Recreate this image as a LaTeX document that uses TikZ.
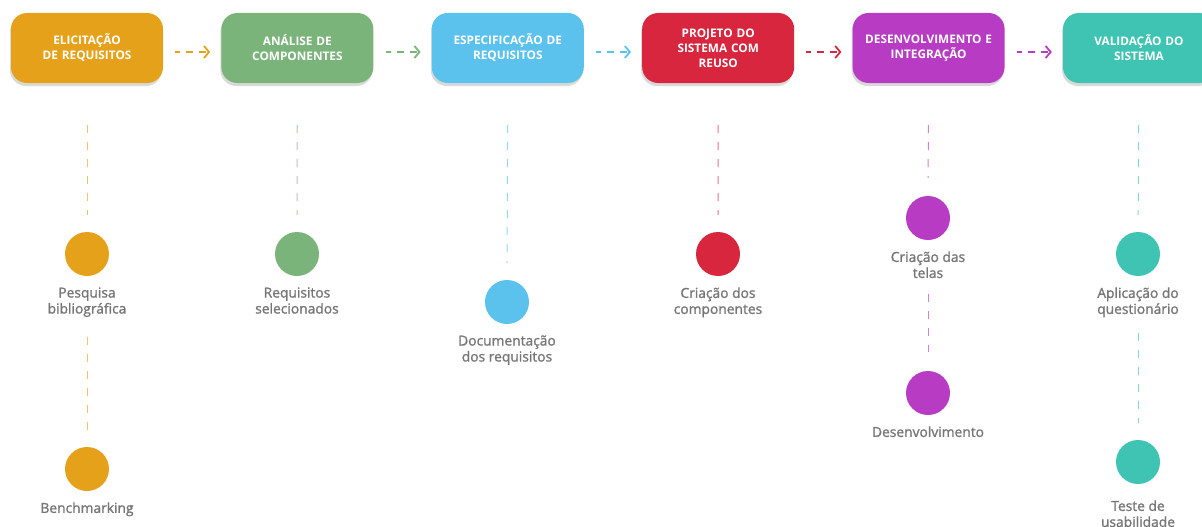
\documentclass[tikz,border=0pt]{standalone}
\usepackage{fontspec}
\setmainfont{Open Sans}
\newfontfamily\fonterotulo[FakeBold=1.4]{Open Sans}
\usepackage{xcolor}
\usetikzlibrary{arrows.meta, positioning, shadows}

\definecolor{corLaranja}{HTML}{E5A11A}
\definecolor{corVerde}{HTML}{7BB47B}
\definecolor{corAzul}{HTML}{5BC2EE}
\definecolor{corVermelho}{HTML}{D7263D}
\definecolor{corRoxo}{HTML}{B73BC3}
\definecolor{corTurquesa}{HTML}{3FC4B3}
\definecolor{cinza}{HTML}{767676}

\begin{document}
\begin{tikzpicture}[x=1pt, y=1pt,
      node distance=58pt,
      etapa/.style={fill=#1, rounded corners=16pt, minimum width=152pt, minimum height=70pt,
        text width=148pt, align=center, text=white, inner sep=0pt,
        font=\bfseries\fontsize{11.8}{15}\selectfont,
        drop shadow={shadow xshift=-1pt, shadow yshift=-3pt, opacity=0.3}},
      seta/.style={draw=#1, line width=1.8pt, dash pattern=on 7pt off 6pt, dash phase=2pt,
        shorten <=12pt, shorten >=11pt, -{Straight Barb[length=5pt, width=12pt, line width=1.8pt]}},
      ponto/.style={circle, fill=#1, minimum size=44pt, inner sep=0pt},
      texto/.style={text=cinza, align=center, inner sep=0pt, font=\fonterotulo\fontsize{13.8}{16}\selectfont},
      guia/.style={draw=#1!65, line width=1pt, dash pattern=on 8pt off 9pt}
    ]
    \useasboundingbox (0,0) rectangle (1202,-527);
    \clip (0,0) rectangle (1202,-527);
    % etapas
    \node[etapa=corLaranja] (elic) at (87,-48) {ELICITAÇÃO\\DE REQUISITOS};
    \node[etapa=corVerde, right=of elic] (anal) {ANÁLISE DE\\COMPONENTES};
    \node[etapa=corAzul, right=of anal] (espec) {ESPECIFICAÇÃO DE\\REQUISITOS};
    \node[etapa=corVermelho, right=of espec] (proj) {PROJETO DO\\SISTEMA COM\\REUSO};
    \node[etapa=corRoxo, right=of proj] (desenv) {DESENVOLVIMENTO E\\INTEGRAÇÃO};
    \node[etapa=corTurquesa, right=of desenv] (valid) {VALIDAÇÃO DO\\SISTEMA};
    \draw[seta=corLaranja] ([yshift=-4pt]elic.east) -- ([yshift=-4pt]anal.west);
    \draw[seta=corVerde] ([yshift=-4pt]anal.east) -- ([yshift=-4pt]espec.west);
    \draw[seta=corAzul] ([yshift=-4pt]espec.east) -- ([yshift=-4pt]proj.west);
    \draw[seta=corVermelho] ([yshift=-4pt]proj.east) -- ([yshift=-4pt]desenv.west);
    \draw[seta=corRoxo] ([yshift=-4pt]desenv.east) -- ([yshift=-4pt]valid.west);
    % atividades
    \node[ponto=corLaranja] (pesq) at (87,-254) {};
    \node[texto, below=11pt of pesq] (tpesq) {Pesquisa\\bibliográfica};
    \node[ponto=corLaranja] (bench) at (87,-469) {};
    \node[texto, below=11pt of bench] (tbench) {Benchmarking};
    \node[ponto=corVerde] (req) at (297,-254) {};
    \node[texto, below=11pt of req] (treq) {Requisitos\\selecionados};
    \node[ponto=corAzul] (doc) at (507,-302) {};
    \node[texto, below=11pt of doc] (tdoc) {Documentação\\dos requisitos};
    \node[ponto=corVermelho] (comp) at (718,-254) {};
    \node[texto, below=11pt of comp] (tcomp) {Criação dos\\componentes};
    \node[ponto=corRoxo] (telas) at (928,-218) {};
    \node[texto, below=11pt of telas] (ttelas) {Criação das\\telas};
    \node[ponto=corRoxo] (dev) at (928,-393) {};
    \node[texto, below=11pt of dev] (tdev) {Desenvolvimento};
    \node[ponto=corTurquesa] (quest) at (1138,-254) {};
    \node[texto, below=11pt of quest] (tquest) {Aplicação do\\questionário};
    \node[ponto=corTurquesa] (teste) at (1138,-462) {};
    \node[texto, below=16pt of teste] (tteste) {Teste de\\usabilidade};
    % guias
    \draw[guia=corLaranja, shorten <=42pt, shorten >=17pt] (elic) -- (pesq);
    \draw[guia=corLaranja, shorten <=20pt, shorten >=17pt] (tpesq) -- (bench);
    \draw[guia=corVerde, shorten <=42pt, shorten >=17pt] (anal) -- (req);
    \draw[guia=corAzul, shorten <=42pt, shorten >=17pt] (espec) -- (doc);
    \draw[guia=corVermelho, shorten <=42pt, shorten >=17pt] (proj) -- (comp);
    \draw[guia=corRoxo, shorten <=42pt, shorten >=18pt] (desenv) -- (telas);
    \draw[guia=corRoxo, shorten <=16pt, shorten >=19pt] (ttelas) -- (dev);
    \draw[guia=corTurquesa, shorten <=42pt, shorten >=17pt] (valid) -- (quest);
    \draw[guia=corTurquesa, shorten <=16pt, shorten >=17pt] (tquest) -- (teste);
  \end{tikzpicture}
\end{document}
